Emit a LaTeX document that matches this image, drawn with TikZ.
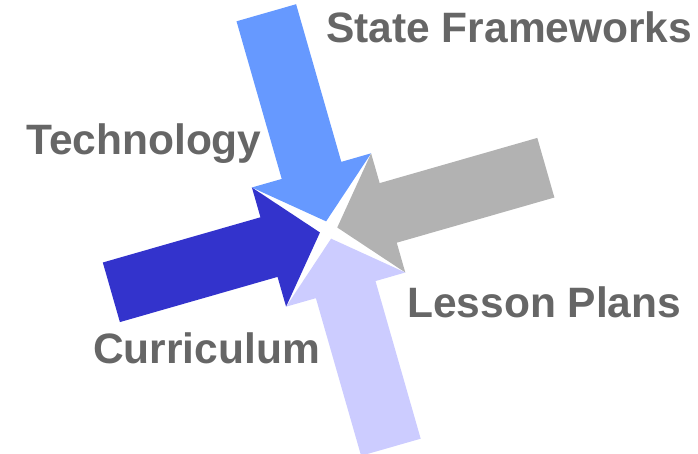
\documentclass[tikz,border=0pt]{standalone}
\usepackage{fontspec}
\setmainfont{Liberation Sans}
\definecolor{lblue}{HTML}{6699FF}
\definecolor{dblue}{HTML}{3333CC}
\definecolor{lgray}{HTML}{B2B2B2}
\definecolor{lav}{HTML}{CCCCFF}
\definecolor{txt}{HTML}{666666}
\begin{document}
\begin{tikzpicture}[x=1pt,y=-1pt,
  lbl/.style={anchor=base west,inner sep=0pt,text=txt,font=\fontsize{42.5}{42.5}\selectfont\bfseries}]
\useasboundingbox (0,0) rectangle (698,454);
\coordinate (C) at (328.6,230);
\foreach \ang/\col in {106/lblue,16/lgray,196/dblue,286/lav}{
  \fill[\col,shift={(C)},rotate=\ang] (9,0) -- (62,62) -- (62,31) -- (226,31) -- (226,-31) -- (62,-31) -- (62,-62) -- cycle;
}
\node[lbl] (sf) at (326,43) {State Frameworks};
\node[lbl] (te) at (26,155) {Technology};
\node[lbl] (lp) at (407,317) {Lesson Plans};
\node[lbl] (cu) at (93,363) {Curriculum};
\end{tikzpicture}
\end{document}
